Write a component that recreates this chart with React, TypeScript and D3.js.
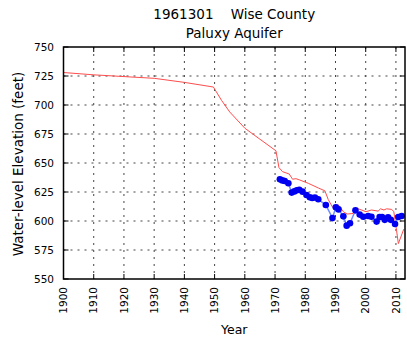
import React from "react";
import * as d3 from "d3";

// Hydrograph for well 1961301 (Wise County, Paluxy Aquifer)
const yearTicks = [1900, 1910, 1920, 1930, 1940, 1950, 1960, 1970, 1980, 1990, 2000, 2010];
const elevTicks = [550, 575, 600, 625, 650, 675, 700, 725, 750];

// Modelled water-level trace (year, elevation)
const modelYears = [
  1900, 1910, 1920, 1930, 1940, 1949.6, 1952.3, 1955, 1960, 1965, 1970.3, 1971.3, 1972.5,
  1974.7, 1975.8, 1976.9, 1978, 1981, 1984.3, 1986.5, 1987.6, 1989, 1989.8, 1990.9, 1992.6,
  1993.9, 1995.9, 1997, 1998.6, 2000.1, 2001.9, 2004.1, 2004.9, 2006, 2006.9, 2008.6, 2009.3,
  2010.2, 2010.8, 2012.6,
];
const modelElev = [
  728, 726, 724.5, 723, 719.5, 715.5, 704, 694, 680, 670.5, 660.5, 646, 642.5,
  640.5, 636, 636.5, 635.5, 632.5, 628.5, 626, 618.5, 612, 613, 614, 608,
  606, 606.5, 611, 609.5, 608, 609.5, 608.5, 610.5, 609.5, 610.5, 610, 608,
  592, 580.5, 593,
];

// Measured water levels (year, elevation)
const measuredYears = [
  1971.6, 1972.4, 1973.2, 1974.4, 1975.5, 1976.4, 1977.2, 1978.0, 1979.1, 1980.4, 1981.5,
  1982.3, 1983.2, 1984.3, 1986.8, 1989.0, 1990.1, 1991.0, 1992.6, 1993.7, 1994.8, 1996.6,
  1998.0, 1999.2, 2000.8, 2001.9, 2003.6, 2004.6, 2005.4, 2006.3, 2007.4, 2008.3, 2009.7,
  2010.8, 2011.9,
];
const measuredElev = [
  636, 635, 634.5, 632.5, 624.5, 625.5, 626.5, 627, 625.3, 622.4, 620.5,
  619.8, 620.2, 618.7, 613.8, 602.5, 611.8, 610, 604, 596, 598, 609.2,
  605.5, 603.7, 604.3, 603.7, 599.5, 603.5, 603.5, 601, 603.2, 601, 597.4,
  603.5, 604.3,
];

const W = 407;
const H = 340;
const left = 63.5;
const right = 405;
const top = 47;
const bottom = 279;

const FONT = "DejaVu Sans, Verdana, sans-serif";

export default function App() {
  const x = d3.scaleLinear().domain([1900, 2013]).range([left, right]);
  const y = d3.scaleLinear().domain([550, 750]).range([bottom, top]);

  const model = modelYears.map((yr, i) => [yr, modelElev[i]] as [number, number]);
  const measured = measuredYears.map((yr, i) => [yr, measuredElev[i]] as [number, number]);

  const line = d3
    .line<[number, number]>()
    .x((d) => x(d[0]))
    .y((d) => y(d[1]));

  const tickLen = 5;

  return (
    <svg
      width={W}
      height={H}
      style={{ position: "absolute", left: 0, top: 0, background: "#fff" }}
      fontFamily={FONT}
    >
      <rect x={0} y={0} width={W} height={H} fill="#fff" />

      {/* titles */}
      <text x={(left + right) / 2} y={19} textAnchor="middle" fontSize={13.5} fill="#000">
        {"1961301\u00a0\u00a0\u00a0\u00a0Wise County"}
      </text>
      <text x={(left + right) / 2} y={38} textAnchor="middle" fontSize={13.5} fill="#000">
        Paluxy Aquifer
      </text>

      {/* dotted grid */}
      <g stroke="#444" strokeWidth={1} strokeDasharray="2,5">
        {elevTicks
          .filter((v) => v > 550 && v < 750)
          .map((v) => (
            <line key={"gy" + v} x1={left} x2={right} y1={y(v)} y2={y(v)} />
          ))}
        {yearTicks
          .filter((v) => v > 1900)
          .map((v) => (
            <line key={"gx" + v} x1={x(v)} x2={x(v)} y1={top} y2={bottom} />
          ))}
      </g>

      {/* inward tick marks on all four sides */}
      <g stroke="#000" strokeWidth={1}>
        {elevTicks.map((v) => (
          <g key={"ty" + v}>
            <line x1={left} x2={left + tickLen} y1={y(v)} y2={y(v)} />
            <line x1={right} x2={right - tickLen} y1={y(v)} y2={y(v)} />
          </g>
        ))}
        {yearTicks.map((v) => (
          <g key={"tx" + v}>
            <line x1={x(v)} x2={x(v)} y1={bottom} y2={bottom - tickLen} />
            <line x1={x(v)} x2={x(v)} y1={top} y2={top + tickLen} />
          </g>
        ))}
      </g>

      {/* model trace */}
      <path d={line(model) ?? ""} fill="none" stroke="#ff4d4d" strokeWidth={1} />

      {/* measured levels */}
      <path d={line(measured) ?? ""} fill="none" stroke="#6f8cff" strokeWidth={1.5} />
      {measured.map((d, i) => (
        <circle key={"m" + i} cx={x(d[0])} cy={y(d[1])} r={3.3} fill="#0000f0" />
      ))}

      {/* frame */}
      <rect
        x={left}
        y={top}
        width={right - left}
        height={bottom - top}
        fill="none"
        stroke="#000"
        strokeWidth={1.5}
      />

      {/* y tick labels */}
      {elevTicks.map((v) => (
        <text
          key={"ly" + v}
          x={54}
          y={y(v)}
          dy="0.35em"
          textAnchor="end"
          fontSize={10.5}
          fill="#000"
        >
          {v}
        </text>
      ))}

      {/* x tick labels, rotated */}
      {yearTicks.map((v) => (
        <text
          key={"lx" + v}
          transform={`translate(${x(v)},${287}) rotate(-90)`}
          dy="0.35em"
          textAnchor="end"
          fontSize={10.5}
          fill="#000"
        >
          {v}
        </text>
      ))}

      {/* axis titles */}
      <text x={(left + right) / 2} y={334} textAnchor="middle" fontSize={12.5} fill="#000">
        Year
      </text>
      <text
        transform={`translate(18,${(top + bottom) / 2 + 1}) rotate(-90)`}
        dy="0.35em"
        textAnchor="middle"
        fontSize={13.5}
        fill="#000"
      >
        Water-level Elevation (feet)
      </text>
    </svg>
  );
}
